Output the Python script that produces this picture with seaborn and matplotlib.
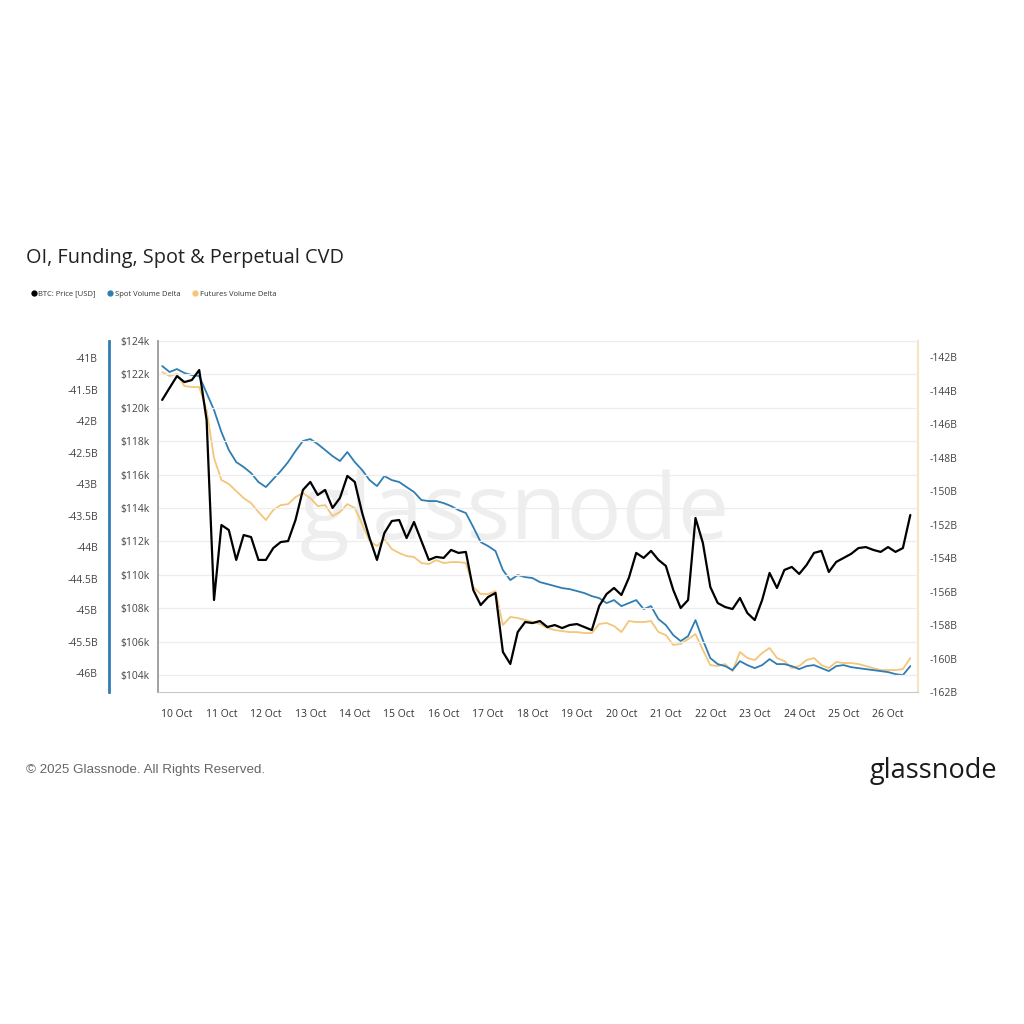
import pandas as pd
import seaborn as sns
import matplotlib.pyplot as plt
import matplotlib.dates as mdates
from matplotlib.lines import Line2D

# 4-hourly samples, 9 Oct 16:00 -> 26 Oct 12:00
start = "2025-10-09 16:00"

btc_price_k = [
    120.47, 121.19, 121.90, 121.54, 121.66, 122.26, 119.27, 108.49, 112.98, 112.68,
    110.89, 112.38, 112.26, 110.89, 110.89, 111.60, 111.96, 112.02, 113.28, 115.08,
    115.56, 114.78, 115.08, 114.00, 114.60, 115.92, 115.56, 113.70, 112.20, 110.89,
    112.50, 113.22, 113.28, 112.20, 113.16, 112.02, 110.89, 111.07, 111.01, 111.49,
    111.31, 111.37, 109.09, 108.19, 108.67, 108.91, 105.38, 104.66, 106.57, 107.17,
    107.11, 107.23, 106.87, 106.99, 106.81, 106.99, 107.05, 106.87, 106.69, 108.13,
    108.85, 109.21, 108.79, 109.81, 111.31, 111.01, 111.43, 110.89, 110.53, 109.09,
    108.01, 108.49, 113.40, 111.90, 109.27, 108.31, 108.07, 107.95, 108.61, 107.71,
    107.29, 108.49, 110.11, 109.21, 110.29, 110.47, 110.05, 110.59, 111.31, 111.43,
    110.17, 110.77, 111.01, 111.25, 111.60, 111.66, 111.49, 111.37, 111.66, 111.37,
    111.60, 113.58,
]

spot_delta_b = [
    -41.127, -41.222, -41.175, -41.238, -41.270, -41.286, -41.556, -41.825, -42.175, -42.460,
    -42.651, -42.730, -42.825, -42.968, -43.048, -42.921, -42.794, -42.651, -42.476, -42.317,
    -42.286, -42.365, -42.460, -42.556, -42.635, -42.492, -42.651, -42.778, -42.937, -43.032,
    -42.873, -42.937, -42.968, -43.048, -43.127, -43.254, -43.270, -43.270, -43.302, -43.349,
    -43.413, -43.460, -43.683, -43.921, -43.984, -44.063, -44.365, -44.524, -44.444, -44.476,
    -44.492, -44.556, -44.587, -44.619, -44.651, -44.667, -44.698, -44.730, -44.778, -44.810,
    -44.889, -44.841, -44.937, -44.889, -44.841, -44.984, -44.937, -45.143, -45.238, -45.397,
    -45.492, -45.413, -45.159, -45.476, -45.762, -45.857, -45.889, -45.952, -45.810, -45.873,
    -45.921, -45.873, -45.778, -45.857, -45.857, -45.889, -45.937, -45.889, -45.873, -45.921,
    -45.968, -45.889, -45.873, -45.905, -45.921, -45.937, -45.952, -45.968, -45.984, -46.016,
    -46.032, -45.889,
]

futures_delta_b = [
    -142.90, -143.13, -143.01, -143.73, -143.79, -143.79, -145.16, -148.03, -149.34, -149.58,
    -150.00, -150.42, -150.72, -151.25, -151.73, -151.13, -150.84, -150.78, -150.36, -150.12,
    -150.42, -150.90, -150.84, -151.49, -151.25, -150.78, -151.01, -151.97, -152.99, -153.28,
    -152.87, -153.46, -153.70, -153.88, -153.94, -154.30, -154.36, -154.12, -154.30, -154.24,
    -154.24, -154.30, -155.73, -156.15, -156.15, -155.97, -158.00, -157.52, -157.58, -157.70,
    -157.82, -157.94, -158.18, -158.30, -158.36, -158.42, -158.42, -158.48, -158.48, -157.94,
    -157.88, -158.06, -158.42, -157.76, -157.82, -157.82, -157.76, -158.42, -158.60, -159.19,
    -159.13, -158.84, -158.54, -159.49, -160.39, -160.45, -160.33, -160.75, -159.61, -159.97,
    -160.09, -159.67, -159.37, -159.97, -160.15, -160.57, -160.45, -160.09, -159.97, -160.39,
    -160.57, -160.21, -160.27, -160.27, -160.33, -160.45, -160.57, -160.69, -160.69, -160.69,
    -160.63, -159.97,
]

price_ticks = list(range(104, 125, 2))
spot_ticks = [-41, -41.5, -42, -42.5, -43, -43.5, -44, -44.5, -45, -45.5, -46]
fut_ticks = list(range(-162, -141, 2))

df = pd.DataFrame({
    "time": pd.date_range(start, periods=len(btc_price_k), freq="4h"),
    "price": btc_price_k,
    "spot": spot_delta_b,
    "futures": futures_delta_b,
})

BLACK = "#000000"
BLUE = "#2f7db3"
ORANGE = "#f3c679"

sns.set_style("white")
plt.rcParams["font.family"] = ["Open Sans", "DejaVu Sans"]

fig = plt.figure(figsize=(10.24, 10.24), dpi=100)
fig.patch.set_facecolor("white")
ax = fig.add_axes([0.1543, 0.3242, 0.7422, 0.3428])
ax_fut = ax.twinx()
ax_spot = ax.twinx()

sns.lineplot(data=df, x="time", y="futures", ax=ax_fut, color=ORANGE, lw=1.3)
sns.lineplot(data=df, x="time", y="spot", ax=ax_spot, color=BLUE, lw=1.3)
sns.lineplot(data=df, x="time", y="price", ax=ax, color=BLACK, lw=1.6)

# price on top of the volume deltas
ax.set_zorder(2)
for a in (ax, ax_fut, ax_spot):
    a.patch.set_visible(False)
    a.set_xlabel("")
    a.set_ylabel("")
    for s in a.spines.values():
        s.set_visible(False)

ax.set_xlim(pd.Timestamp("2025-10-09 13:45"), pd.Timestamp("2025-10-26 16:10"))
ax.set_ylim(102.98, 124)
ax_spot.set_ylim(-46.30, -40.73)
ax_fut.set_ylim(-162.0, -141.04)

ax.set_yticks(price_ticks)
ax.set_yticklabels([f"${t}k" for t in price_ticks])
ax.grid(axis="y", color="#ededed", lw=0.9)
ax.grid(axis="x", visible=False)
ax.spines["left"].set_visible(True)
ax.spines["left"].set_color("#9a9a9a")
ax.spines["left"].set_linewidth(1.3)
ax.spines["bottom"].set_visible(True)
ax.spines["bottom"].set_color("#c8c8c8")
ax.tick_params(axis="y", length=0, pad=6, labelsize=7.5, labelcolor="#444444")
ax.tick_params(axis="x", length=4, color="#dddddd", pad=8, labelsize=7.5, labelcolor="#333333")
ax.xaxis.set_major_locator(mdates.DayLocator())
ax.xaxis.set_major_formatter(mdates.DateFormatter("%-d %b"))

# outer left axis for spot delta, 49 px left of the plot (in points)
ax_spot.yaxis.set_ticks_position("left")
ax_spot.yaxis.set_label_position("left")
ax_spot.spines["left"].set_visible(True)
ax_spot.spines["left"].set_position(("outward", 49 * 72 / 100))
ax_spot.spines["left"].set_color(BLUE)
ax_spot.spines["left"].set_linewidth(2)
ax_spot.set_yticks(spot_ticks)
ax_spot.set_yticklabels([f"{t:g}B" for t in spot_ticks])
ax_spot.tick_params(axis="y", length=0, pad=8, labelsize=7.5, labelcolor="#444444")
ax_spot.grid(False)

ax_fut.spines["right"].set_visible(True)
ax_fut.spines["right"].set_color("#f4e7c0")
ax_fut.spines["right"].set_linewidth(1.5)
ax_fut.set_yticks(fut_ticks)
ax_fut.set_yticklabels([f"{t}B" for t in fut_ticks])
ax_fut.tick_params(axis="y", length=0, pad=8, labelsize=7.5, labelcolor="#444444")
ax_fut.grid(False)

# watermark behind everything
fig.text(0.503, 0.497, "glassnode", fontsize=66, color="#eeeeee", ha="center",
         va="center", zorder=-1, family=["Open Sans", "DejaVu Sans"])

fig.text(0.025, 0.748, "OI, Funding, Spot & Perpetual CVD", fontsize=14.3,
         color="#222222", ha="left", va="center")

handles = [
    Line2D([], [], ls="", marker="o", ms=3.5, color=BLACK),
    Line2D([], [], ls="", marker="o", ms=3.5, color=BLUE),
    Line2D([], [], ls="", marker="o", ms=3.5, color=ORANGE),
]
fig.legend(handles, ["BTC: Price [USD]", "Spot Volume Delta", "Futures Volume Delta"],
           loc="center left", bbox_to_anchor=(0.024, 0.7129), ncol=3, frameon=False,
           fontsize=5.5, handlelength=0.6, handletextpad=0.3, columnspacing=1.6,
           labelcolor="#333333")

fig.text(0.025, 0.248, "\u00a9 2025 Glassnode. All Rights Reserved.", fontsize=9.6,
         color="#666666", ha="left", va="center", family=["Liberation Sans", "DejaVu Sans"])
fig.text(0.974, 0.247, "glassnode", fontsize=19.5, color="#1a1a1a", ha="right", va="center")

fig.savefig("out.png", dpi=100, facecolor="white")
